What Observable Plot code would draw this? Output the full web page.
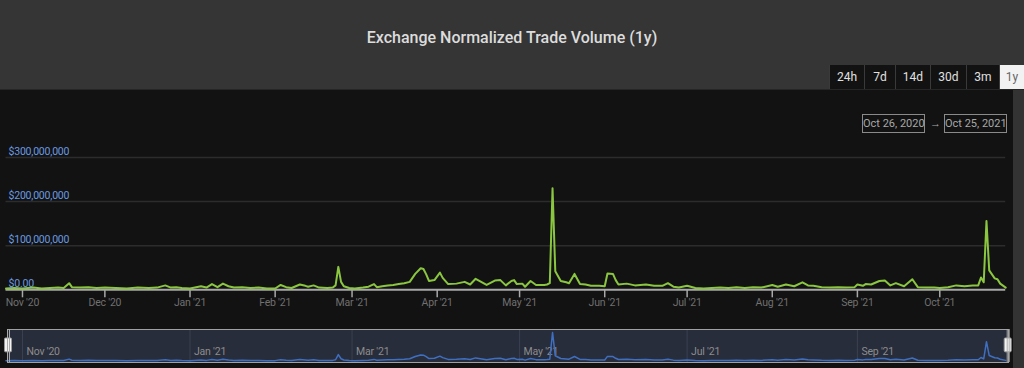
<!DOCTYPE html>
<html><head><meta charset="utf-8">
<script src="https://cdn.jsdelivr.net/npm/d3@7"></script>
<script src="https://cdn.jsdelivr.net/npm/@observablehq/plot@0.6"></script>
<style>
html,body{margin:0;padding:0;background:#121212;width:1024px;height:368px;overflow:hidden;font-family:Roboto,"Open Sans",sans-serif;}
#header{position:absolute;left:0;top:0;width:1024px;height:90px;background:#353535;border-bottom:1px solid #262626;box-sizing:border-box}
#title{position:absolute;left:0;top:28px;width:1024px;text-align:center;color:#dcdcdc;font-size:16px;font-weight:500;white-space:nowrap}
#buttons{position:absolute;left:829px;top:65px;height:24px;display:flex;}
.btn{height:24px;line-height:24px;text-align:center;color:#e0e0e0;background:#121212;font-size:12px;border-left:1px solid #3a3a3a;box-sizing:border-box;white-space:nowrap}
.btn.sel{background:#f2f2f2;color:#666}
#strip{position:absolute;left:1013px;top:90px;width:11px;height:278px;background:#333}
#main{position:absolute;left:0;top:90px}
#nav{position:absolute;left:0;top:320px}
.range{position:absolute;top:114px;height:19px;border:1px solid #8a8a8a;color:#a8a8a8;font-size:11px;line-height:17px;box-sizing:border-box;text-align:center;white-space:nowrap}
#arrow{position:absolute;left:930px;top:114px;color:#a8a8a8;font-size:11px;line-height:19px}
svg text{letter-spacing:-0.2px}
</style></head><body>
<div id="header"><div id="title">Exchange Normalized Trade Volume (1y)</div><div id="buttons"></div></div>
<div id="strip"></div>
<div id="main"></div>
<div id="nav"></div>
<div class="range" style="left:862px;width:63px">Oct 26, 2020</div>
<div id="arrow">→</div>
<div class="range" style="left:944px;width:63px">Oct 25, 2021</div>
<script>
// ---- data ----
const startDate = "2020-10-26";
const endDate = "2021-10-25";
// day offsets from startDate
const dayOffsets = [
  0,3,6,10,13,16,19,21,23,24,
  27,30,33,36,40,44,48,52,55,58,
  60,62,64,67,71,73,75,77,79,81,
  83,86,89,92,95,98,100,102,104,107,
  109,110,112,114,117,119,120,121,122,123,
  125,127,130,132,134,135,137,139,141,143,
  145,147,149,151,152,153,154,156,158,159,
  161,164,167,169,171,175,178,180,182,184,
  185,186,188,189,191,193,196,197,198,199,
  200,202,204,205,207,209,211,213,216,218,
  219,221,222,223,226,229,233,236,239,241,
  243,245,248,251,254,257,260,263,266,269,
  272,275,279,281,284,287,290,292,294,297,
  300,303,306,309,310,312,313,315,318,320,
  322,324,327,330,332,335,338,340,343,346,
  349,352,354,355,356,357,358,360,361,362,364
];
// normalized trade volume, millions of USD
const volumeMillions = [
  3,4,3,5,3,4,5,4,15,6,
  5,6,4,5,4,3,5,4,5,10,
  5,6,4,3,8,5,13,6,14,8,
  5,6,4,5,3,3,11,6,4,12,
  9,7,10,5,4,5,10,52,18,8,
  4,3,5,7,13,6,8,10,11,13,
  15,18,36,49,47,35,20,22,39,27,
  13,14,18,12,25,11,21,22,10,20,
  22,13,14,7,20,11,11,12,15,230,
  42,20,17,15,36,13,12,9,9,8,
  37,36,22,12,14,10,12,9,9,15,
  7,5,9,4,3,4,5,4,6,4,
  6,5,11,7,12,8,17,10,9,6,
  5,6,5,6,12,9,13,12,20,21,
  10,15,8,24,6,5,5,4,6,10,
  8,10,10,28,17,156,44,26,24,14,5
];
const yTicks = [0,100,200,300]; // millions
const monthTickDates = ["2020-11-01","2020-12-01","2021-01-01","2021-02-01","2021-03-01","2021-04-01","2021-05-01","2021-06-01","2021-07-01","2021-08-01","2021-09-01","2021-10-01"];
const monthTickLabels = ["Nov '20","Dec '20","Jan '21","Feb '21","Mar '21","Apr '21","May '21","Jun '21","Jul '21","Aug '21","Sep '21","Oct '21"];
const navTickDates = ["2020-11-01","2021-01-01","2021-03-01","2021-05-01","2021-07-01","2021-09-01"];
const navTickLabels = ["Nov '20","Jan '21","Mar '21","May '21","Jul '21","Sep '21"];
const buttons = ["24h","7d","14d","30d","3m","1y"];
const buttonWidths = [35,31,35,36,33,25];

// ---- buttons ----
const bc = document.getElementById("buttons");
buttons.forEach((b,i)=>{const e=document.createElement("div");e.className="btn"+(b==="1y"?" sel":"");e.style.width=buttonWidths[i]+"px";e.textContent=b;bc.appendChild(e);});

const parse = d3.utcParse("%Y-%m-%d");
const start = parse(startDate), end = parse(endDate);
const data = dayOffsets.map((d,i)=>({date:d3.utcDay.offset(start,d), v:volumeMillions[i]}));
const mTicks = monthTickDates.map(parse);
const nTicks = navTickDates.map((s,i)=>({date:parse(s), label:navTickLabels[i]}));
const labelOf = new Map(mTicks.map((d,i)=>[+d, monthTickLabels[i]]));
const font = 'Roboto,"Open Sans",sans-serif';
const fmtY = v => v===0 ? "$0.00" : "$"+d3.format(",")(v*1e6);

const main = Plot.plot({
  width:1013, height:230, marginLeft:5.5, marginRight:7.8, marginTop:60, marginBottom:30.7,
  style:{background:"transparent", fontFamily:font, overflow:"visible"},
  x:{type:"utc", domain:[start,end]},
  y:{domain:[0,300], range:[199.3,67], axis:null},
  marks:[
    Plot.ruleY(yTicks.slice(1), {stroke:"#2c2c2c", strokeWidth:1.5}),
    Plot.ruleY([0], {stroke:"#a8a8a8", strokeWidth:2}),
    Plot.axisX({ticks:mTicks, tickSize:8, tickPadding:1, stroke:"#a8a8a8", strokeWidth:1.5, color:"#707070", fontSize:10.5, tickFormat:d=>labelOf.get(+d), label:null}),
    Plot.line(data, {x:"date", y:"v", stroke:"#8bc640", strokeWidth:2}),
    Plot.text(yTicks, {x:()=>start, y:d=>d, text:fmtY, textAnchor:"start", dx:2.5, dy:-6, fill:"#6a9be0", fontSize:10.5})
  ]
});
document.getElementById("main").appendChild(main);

const nav = Plot.plot({
  width:1024, height:48, marginLeft:7, marginRight:16, marginTop:9, marginBottom:6,
  style:{background:"transparent", fontFamily:font, overflow:"visible"},
  x:{type:"utc", domain:[start,end], range:[5.5,1005.2], axis:null},
  y:{domain:[0,230], range:[40.5,12], axis:null},
  marks:[
    Plot.frame({fill:"#282d3b"}),
    Plot.ruleX(nTicks, {x:"date", stroke:"#3b4151", strokeWidth:1}),
    Plot.text(nTicks, {x:"date", text:"label", frameAnchor:"bottom", dy:-8, dx:4, textAnchor:"start", fill:"#8c8c8c", fontSize:10.5}),
    Plot.line(data, {x:"date", y:"v", stroke:"#3f6fc0", strokeWidth:1.5}),
    Plot.frame({stroke:"#a0a0a0", strokeWidth:1}),
    Plot.rect([start], {x1:d=>d, x2:d=>d, y1:70, y2:182, insetLeft:-3.5, insetRight:-3.5, dx:2.5, fill:"#f2f2f2", stroke:"#999", rx:1}),
    Plot.rect([end], {x1:d=>d, x2:d=>d, y1:70, y2:182, insetLeft:-3.5, insetRight:-3.5, dx:2.5, fill:"#f2f2f2", stroke:"#999", rx:1}),
    Plot.tickX([start], {x:d=>d, y1:95, y2:160, dx:1.5, stroke:"#aaa", strokeWidth:1}),
    Plot.tickX([start], {x:d=>d, y1:95, y2:160, dx:3.5, stroke:"#aaa", strokeWidth:1}),
    Plot.tickX([end], {x:d=>d, y1:95, y2:160, dx:1.5, stroke:"#aaa", strokeWidth:1}),
    Plot.tickX([end], {x:d=>d, y1:95, y2:160, dx:3.5, stroke:"#aaa", strokeWidth:1})
  ]
});
document.getElementById("nav").appendChild(nav);
</script>
</body></html>
